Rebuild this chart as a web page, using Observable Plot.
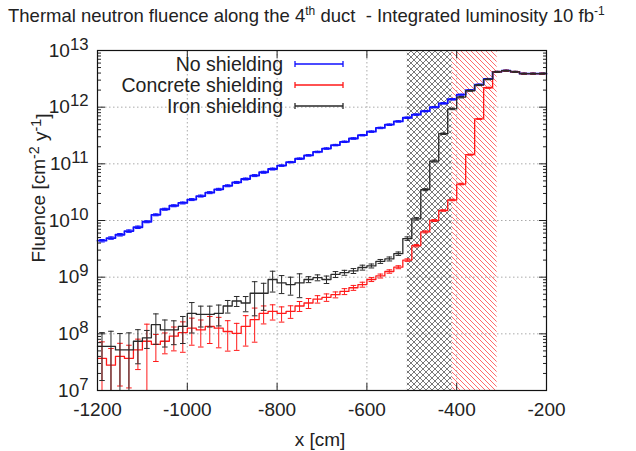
<!DOCTYPE html>
<html><head><meta charset="utf-8">
<script src="https://cdn.jsdelivr.net/npm/d3@7"></script>
<script src="https://cdn.jsdelivr.net/npm/@observablehq/plot@0.6"></script>
<style>
body{margin:0;background:#fff;}
#wrap{position:relative;width:636px;height:451px;font-family:"Liberation Sans",Arial,sans-serif;}
#title{position:absolute;left:8px;top:5px;font-size:18.5px;color:#222;white-space:nowrap;z-index:2;}
#title sup{font-size:12px;vertical-align:7px;line-height:0;}
#chart{position:absolute;left:0;top:0;}
</style></head>
<body>
<div id="wrap">
<div id="title">Thermal neutron fluence along the 4<sup>th</sup> duct&nbsp; - Integrated luminosity 10 fb<sup>-1</sup></div>
<div id="chart"></div>
</div>
<script>
const binStart = [-1200,-1180,-1160,-1140,-1120,-1100,-1080,-1060,-1040,-1020,
  -1000,-980,-960,-940,-920,-900,-880,-860,-840,-820,
  -800,-780,-760,-740,-720,-700,-680,-660,-640,-620,
  -600,-580,-560,-540,-520,-500,-480,-460,-440,-420,
  -400,-380,-360,-340,-320,-300,-280,-260,-240,-220];
const binWidth = 20;

const noShield = [4.4e9,4.9e9,5.6e9,6.5e9,7.6e9,9.5e9,1.26e10,1.58e10,1.82e10,2.04e10,
  2.34e10,2.7e10,3.1e10,3.55e10,4.1e10,4.7e10,5.4e10,6.2e10,7.1e10,8.1e10,
  9.3e10,1.07e11,1.23e11,1.41e11,1.62e11,1.86e11,2.14e11,2.45e11,2.8e11,3.2e11,
  3.7e11,4.3e11,4.9e11,5.6e11,6.5e11,7.4e11,8.5e11,1.0e12,1.17e12,1.38e12,
  1.66e12,2.0e12,2.5e12,3.15e12,4.2e12,4.4e12,4.2e12,3.9e12,3.9e12,3.9e12];
const noShieldErr = [0.05,0.05,0.05,0.05,0.05,0.04,0.04,0.04,0.04,0.04,
  0.04,0.04,0.04,0.04,0.04,0.04,0.04,0.04,0.04,0.04,
  0.03,0.03,0.03,0.03,0.03,0.03,0.03,0.03,0.03,0.03,
  0.03,0.03,0.03,0.03,0.03,0.03,0.03,0.03,0.03,0.03,
  0.02,0.02,0.02,0.02,0.02,0.02,0.02,0.02,0.02,0.02];

const concrete = [3.7e7,2.8e7,4.0e7,3.7e7,5.2e7,7.4e7,6.5e7,7.4e7,9.1e7,1.05e8,
  1.26e8,1.17e8,1.35e8,1.26e8,1.1e8,1.02e8,1.35e8,1.78e8,2.3e8,2.5e8,
  2.3e8,2.5e8,3.1e8,3.5e8,4.1e8,4.4e8,4.9e8,5.6e8,6.5e8,7.4e8,
  9.1e8,1.05e9,1.26e9,1.5e9,2.0e9,3.6e9,6.3e9,1.0e10,1.5e10,2.3e10,
  4.4e10,1.45e11,6.2e11,2.2e12,4.2e12,4.4e12,4.2e12,3.9e12,3.9e12,3.9e12];
const concreteErr = [0.95,0.97,0.7,0.7,0.55,1.0,0.5,0.4,0.45,0.55,
  0.5,0.5,0.5,0.55,0.55,0.5,0.55,0.6,0.35,0.3,
  0.3,0.25,0.2,0.2,0.15,0.15,0.12,0.12,0.1,0.1,
  0.08,0.08,0.07,0.06,0.05,0.05,0.04,0.04,0.03,0.03,
  0.03,0.02,0.02,0.02,0.02,0.02,0.02,0.02,0.02,0.02];

const iron = [6.0e7,6.0e7,5.2e7,5.2e7,7.4e7,8.5e7,1.45e8,1.17e8,1.17e8,1.35e8,
  2.3e8,2.2e8,2.2e8,2.3e8,3.1e8,3.8e8,3.5e8,5.2e8,5.2e8,9.1e8,
  7.9e8,7.4e8,7.9e8,9.1e8,9.8e8,9.1e8,1.12e9,1.2e9,1.29e9,1.48e9,
  1.58e9,1.9e9,2.1e9,2.6e9,4.8e9,1.07e10,3.5e10,1.12e11,3.4e11,9.3e11,
  1.5e12,1.95e12,2.45e12,3.1e12,4.2e12,4.4e12,4.2e12,3.9e12,3.9e12,3.9e12];
const ironErr = [0.75,0.85,0.95,1.0,0.6,0.35,0.55,0.5,0.45,0.5,
  0.55,0.4,0.4,0.4,0.25,0.2,0.3,0.6,0.5,0.4,
  0.35,0.35,0.45,0.12,0.12,0.15,0.12,0.1,0.1,0.1,
  0.08,0.08,0.08,0.07,0.07,0.05,0.04,0.04,0.03,0.03,
  0.03,0.02,0.02,0.02,0.02,0.02,0.02,0.02,0.02,0.02];

const seriesNames = ["No shielding","Concrete shielding","Iron shielding"];
const seriesColors = ["#1010ff","#ff1a1a","#2a2a2a"];

const shieldNames = ["iron","concrete"];
const shieldStart = [-510,-410];
const shieldEnd = [-410,-310];

const xTicks = [-1200,-1000,-800,-600,-400,-200];
const yDecades = [1e7,1e8,1e9,1e10,1e11,1e12,1e13];

// build tables
const allVals = [noShield, concrete, iron];
const allErrs = [noShieldErr, concreteErr, ironErr];
const stepRows = [], errRows = [];
allVals.forEach((vals, s) => {
  vals.forEach((v, i) => {
    stepRows.push({series: seriesNames[s], x: binStart[i], y: v});
    const r = allErrs[s][i];
    errRows.push({series: seriesNames[s], x: binStart[i] + binWidth/2, y: v,
      lo: Math.max(v*(1-r), 1e5), hi: v*(1+r)});
  });
  stepRows.push({series: seriesNames[s], x: binStart[vals.length-1] + binWidth, y: vals[vals.length-1]});
});
const shields = shieldNames.map((n,i)=>({name:n, x1:shieldStart[i], x2:shieldEnd[i]}));
const yMinor = [];
yDecades.slice(0,-1).forEach(d => { for (let k=2;k<=9;k++) yMinor.push(d*k); });

const capSymbol = {draw(ctx){ ctx.moveTo(-2.8,0); ctx.lineTo(2.8,0); }};

const marks = [
  Plot.gridY(yDecades.slice(1,-1), {stroke:"#aaa", strokeOpacity:1, strokeDasharray:"1.5,2.5"}),
  Plot.gridX(xTicks.slice(1,-1), {stroke:"#aaa", strokeOpacity:1, strokeDasharray:"1.5,2.5"}),
  Plot.rect(shields.filter(d=>d.name==="concrete"), {x1:"x1", x2:"x2", fill:"url(#rhatch)"}),
  Plot.rect(shields.filter(d=>d.name==="iron"), {x1:"x1", x2:"x2", fill:"url(#xhatch)"}),
];
[0,1,2].forEach(s => {
  const name = seriesNames[s];
  const col = seriesColors[s];
  const rows = errRows.filter(d=>d.series===name);
  marks.push(Plot.ruleX(rows, {x:"x", y1:"lo", y2:"hi", stroke:col, strokeWidth:1, clip:true}));
  marks.push(Plot.dot(rows, {x:"x", y:"hi", symbol:capSymbol, stroke:col, fill:"none", strokeWidth:1, clip:true}));
  marks.push(Plot.dot(rows.filter(d=>d.lo>1e7), {x:"x", y:"lo", symbol:capSymbol, stroke:col, fill:"none", strokeWidth:1, clip:true}));
  marks.push(Plot.line(stepRows.filter(d=>d.series===name), {x:"x", y:"y", curve:"step-after", stroke:col, strokeWidth: s===0 ? 1.8 : 1.3}));
});
marks.push(
  Plot.axisY(yDecades, {anchor:"left", tickSize:-8, tickPadding:17, tickFormat: d => String(Math.round(Math.log10(d))), label:null}),
  Plot.axisY(yMinor, {anchor:"left", tickSize:-4, tickFormat: () => "", label:null}),
  Plot.axisY(yDecades, {anchor:"right", tickSize:-8, tickFormat: () => "", label:null}),
  Plot.axisY(yMinor, {anchor:"right", tickSize:-4, tickFormat: () => "", label:null}),
  Plot.axisX(xTicks, {anchor:"bottom", tickSize:-7, tickPadding:19, tickFormat: d => String(d), label:null}),
  Plot.axisX(xTicks, {anchor:"top", tickSize:-7, tickFormat: () => "", label:null}),
  Plot.frame({stroke:"#111", strokeWidth:1.2})
);

const chart = Plot.plot({
  width:636, height:451,
  marginLeft:97, marginRight:90, marginTop:50, marginBottom:61,
  x:{domain:[-1200,-200]},
  y:{type:"log", domain:[1e7,1e13]},
  style:{fontFamily:"'Liberation Sans', Arial, sans-serif", fontSize:"19px", color:"#222", background:"white", overflow:"visible"},
  marks
});
document.getElementById("chart").appendChild(chart);

const svg = d3.select(chart);
const defs = svg.insert("defs", ":first-child");
const rp = defs.append("pattern").attr("id","rhatch").attr("patternUnits","userSpaceOnUse").attr("width",5).attr("height",5);
rp.append("path").attr("d","M-1,-1L6,6M-1,4L1,6M4,-1L6,1").attr("stroke","#ff6a6a").attr("stroke-width",1).attr("fill","none");
const xp = defs.append("pattern").attr("id","xhatch").attr("patternUnits","userSpaceOnUse").attr("width",6).attr("height",6);
xp.append("path").attr("d","M-1,-1L7,7M-1,5L1,7M5,-1L7,1M-1,7L7,-1M-1,1L1,-1M5,7L7,5").attr("stroke","#555").attr("stroke-width",0.8).attr("fill","none");

// superscript y tick labels
svg.selectAll('g[aria-label="y-axis tick label"] text').each(function(){
  const t = d3.select(this);
  const e = t.text();
  if (!e) return;
  t.text("");
  t.append("tspan").text("10");
  t.append("tspan").attr("dy","-0.42em").attr("font-size","0.88em").text(e);
});

// axis titles
svg.append("text").attr("x",320).attr("y",446).attr("text-anchor","middle")
  .attr("fill","#222").attr("font-size",19).text("x [cm]");
const yl = svg.append("text").attr("transform","translate(45,188) rotate(-90)").attr("text-anchor","middle")
  .attr("fill","#222").attr("font-size",19);
yl.append("tspan").text("Fluence [cm");
yl.append("tspan").attr("dy","-0.4em").attr("font-size","0.75em").text("-2");
yl.append("tspan").attr("dy","0.4em").text(" y");
yl.append("tspan").attr("dy","-0.4em").attr("font-size","0.75em").text("-1");
yl.append("tspan").attr("dy","0.4em").text("]");

// legend
const legY = [64, 85, 106];
seriesNames.forEach((n,i) => {
  const g = svg.append("g");
  g.append("text").attr("x",283).attr("y",legY[i]).attr("dy","0.35em").attr("text-anchor","end")
    .attr("fill","#222").attr("font-size",19.5).text(n);
  g.append("path").attr("d",`M295,${legY[i]}H343M295,${legY[i]-3}V${legY[i]+3}M343,${legY[i]-3}V${legY[i]+3}`)
    .attr("stroke",seriesColors[i]).attr("stroke-width",1.3).attr("fill","none");
});
</script>
</body></html>
